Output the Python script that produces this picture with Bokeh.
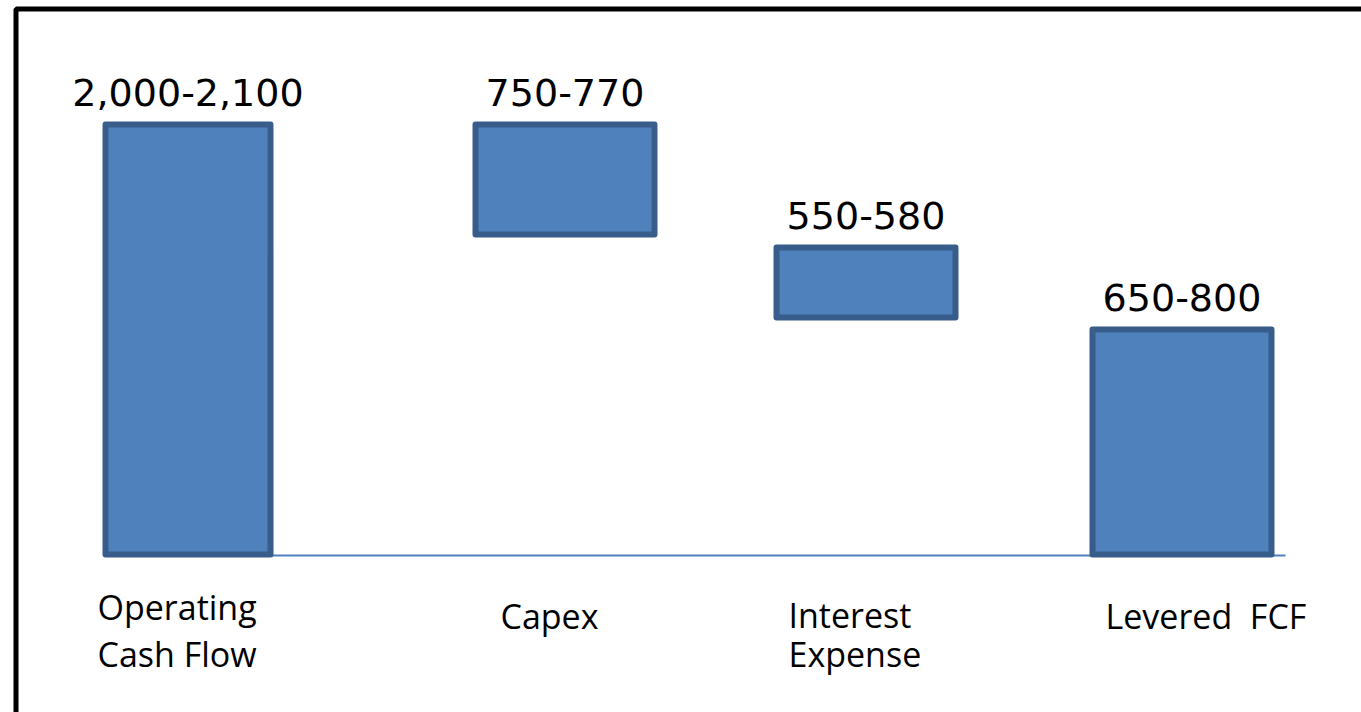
from bokeh.plotting import figure
from bokeh.models import Range1d, ColumnDataSource
from bokeh.core.properties import value
from bokeh.embed import file_html
from bokeh.resources import INLINE

# ---------------- data ----------------
categories = [["Operating", "Cash Flow"], ["Capex"], ["Interest", "Expense"], ["Levered  FCF"]]
range_labels = ["2,000-2,100", "750-770", "550-580", "650-800"]
bar_top = [2050, 2050, 1464, 1073]
bar_bottom = [0, 1525, 1130, 0]

# ---------------- layout (pixels) ----------------
W, H = 1361, 712
BASE_PX = 554.0                 # pixel row of value 0
PX_PER_UNIT = 430.0 / 2050.0
bar_center_px = [187.5, 564.5, 865.5, 1181.5]
bar_width_px = [165, 179, 179, 179]
label_gap_px = 19 + 13
cat_left_px = [97, 500, 788, 1105]
TEXT_DY = -13
cat_first_baseline_px = [619, 628, 627, 628]
cat_line_step_px = [47, 0, 39, 0]


def py(pix):
    """pixel row -> data value"""
    return (BASE_PX - pix) / PX_PER_UNIT


p = figure(width=W, height=H, output_backend="svg", toolbar_location=None,
           x_range=Range1d(0, W), y_range=Range1d(py(H), py(0)),
           min_border=0, min_border_left=0, min_border_right=0,
           min_border_top=0, min_border_bottom=0)
p.axis.visible = False
p.grid.visible = False
p.outline_line_color = None
p.background_fill_color = "white"
p.border_fill_color = "white"

# outer black frame (extends past right and bottom edges)
p.quad(left=[15.5], right=[W + 50], top=[py(8.5)], bottom=[py(H + 50)],
       fill_color=None, line_color="black", line_width=5)

# baseline
p.segment(x0=[bar_center_px[0] - bar_width_px[0] / 2], x1=[1285],
          y0=[py(555)], y1=[py(555)], line_color="#4F81BD", line_width=2)

# bars
src = ColumnDataSource(dict(x=bar_center_px, w=bar_width_px, top=bar_top, bottom=bar_bottom,
                            lab=range_labels,
                            ly=[t + label_gap_px / PX_PER_UNIT for t in bar_top]))
p.vbar(x="x", width="w", top="top", bottom="bottom", source=src,
       fill_color="#4F81BD", line_color="#385D8A", line_width=6, line_join="round")

# value range labels
p.text(x="x", y="ly", text="lab", source=src, text_align="center",
       text_baseline="alphabetic", text_font=value("DejaVu Sans"),
       text_font_size="38px", text_color="black")

# category labels
xs, ys, ts = [], [], []
for i, lines in enumerate(categories):
    for j, t in enumerate(lines):
        xs.append(cat_left_px[i])
        ys.append(py(cat_first_baseline_px[i] + j * cat_line_step_px[i] + TEXT_DY))
        ts.append(t.replace("  ", "\u00a0 "))
p.text(x=xs, y=ys, text=ts, text_align="left", text_baseline="alphabetic",
       text_font=value("Open Sans"), text_font_size="34px", text_color="black")

open("out.html", "w").write(file_html(p, INLINE))
